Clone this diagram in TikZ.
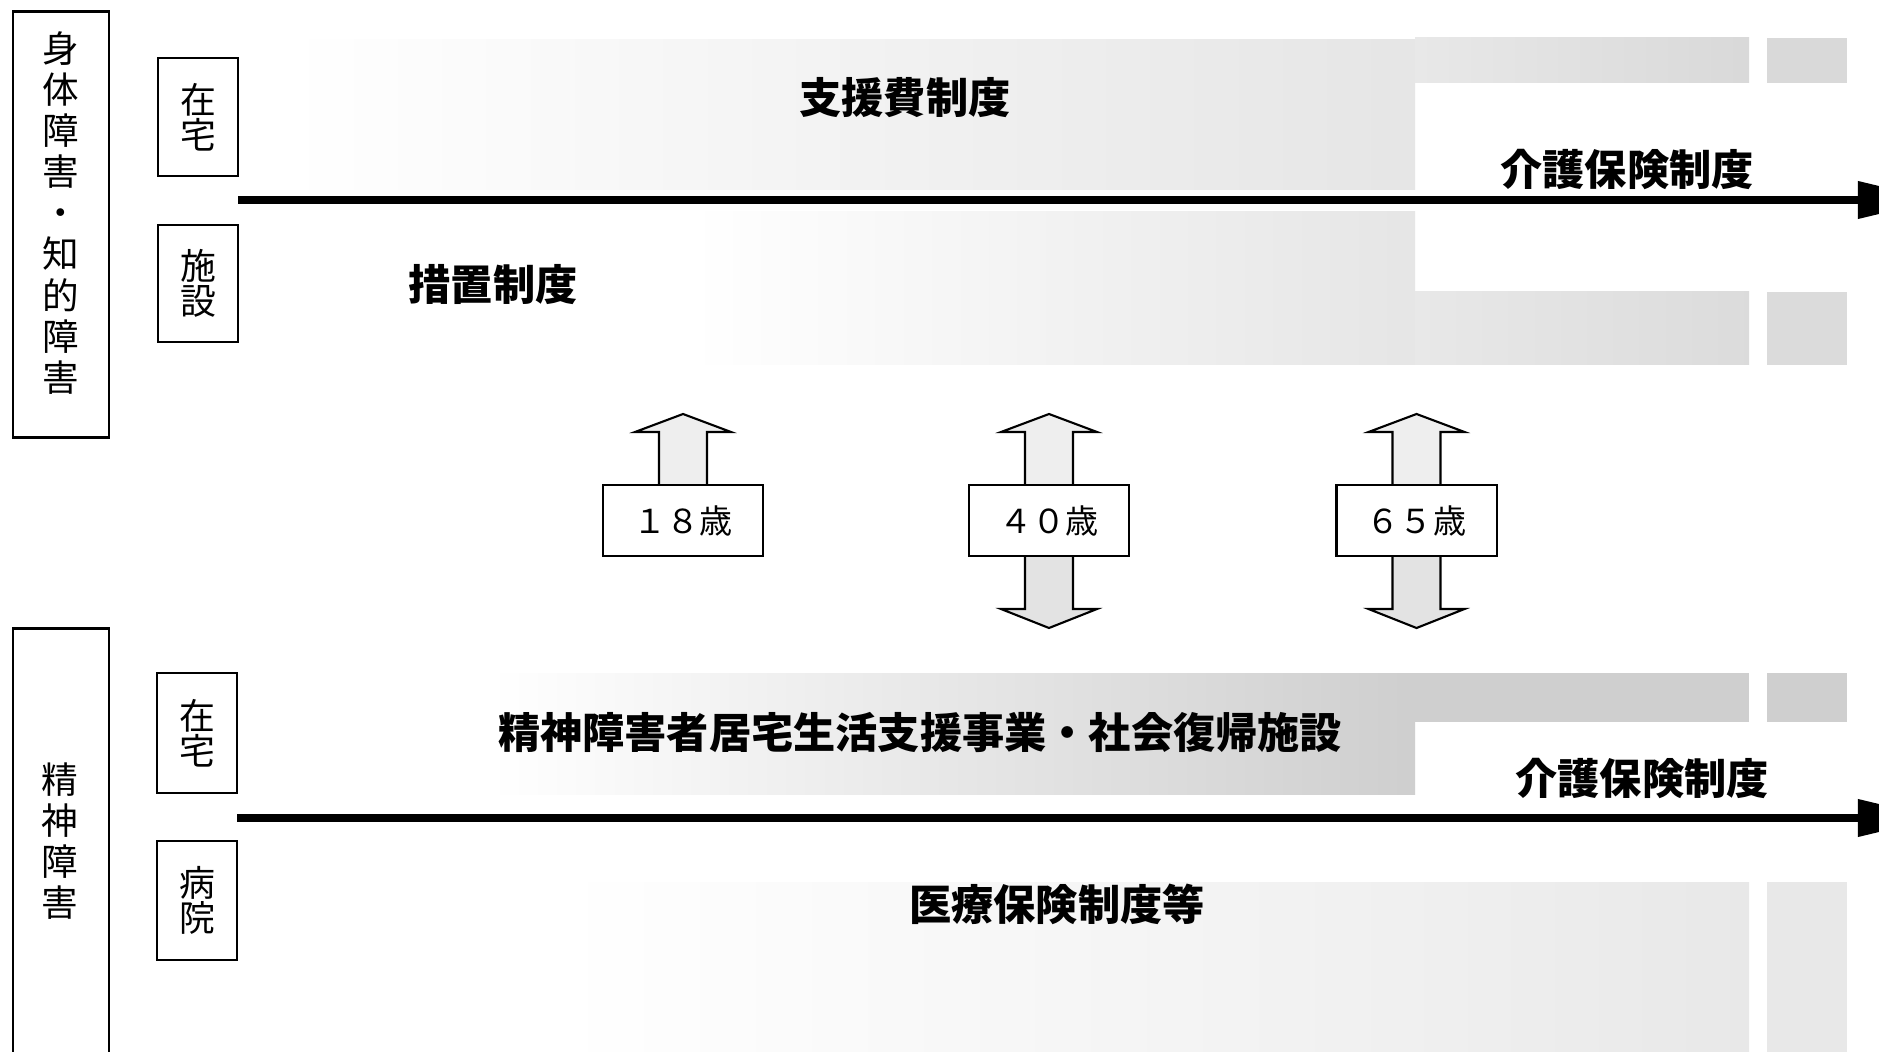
\documentclass[tikz,border=0pt]{standalone}
\usepackage{fontspec}
\newfontfamily\cjk{Noto Sans CJK JP}
\usetikzlibrary{arrows.meta}
\begin{document}
\begin{tikzpicture}[x=0.01cm,y=-0.01cm,
  grouplabel/.style={draw, line width=0.8pt, inner sep=0pt, minimum width=0.96cm},
  vtext/.style={inner sep=0pt, align=center, font=\cjk\fontsize{10.4pt}{11.67pt}\selectfont},
  smallbox/.style={draw, line width=0.5pt, minimum width=0.80cm, inner sep=0pt, align=center, font=\cjk\fontsize{10.2pt}{10pt}\selectfont},
  agebox/.style={draw, fill=white, line width=0.6pt, minimum width=1.60cm, minimum height=0.71cm, inner sep=0pt, font=\cjk\fontsize{9.4pt}{10pt}\selectfont},
  uparrow/.style={draw, line width=0.6pt, fill=gray!13},
  downarrow/.style={draw, line width=0.6pt, fill=gray!22},
  title/.style={inner sep=0pt, font=\cjk\bfseries\fontsize{12pt}{12pt}\selectfont},
  timeline/.style={line width=2pt, -{Triangle[length=0.8cm,width=0.36cm]}},
]
\useasboundingbox (0,0) rectangle (1879,1052);
\fill[white] (0,0) rectangle (1879,1052);

% ---- shaded bands ----
% upper group, above line
\shade[left color=white, right color=gray!20] (287,40) rectangle (1415,190);
\shade[left color=gray!18, right color=gray!30] (1415,38) rectangle (1749,83);
\fill[gray!30] (1767,38) rectangle (1847,83);
% upper group, below line
\shade[left color=white, right color=gray!20] (690,212) rectangle (1415,365);
\shade[left color=gray!18, right color=gray!28] (1415,292) rectangle (1749,365);
\fill[gray!28] (1767,292) rectangle (1847,365);
% lower group, above line
\shade[left color=white, right color=gray!38] (490,673) rectangle (1415,794);
\fill[gray!38] (1415,673) rectangle (1749,722);
\fill[gray!38] (1767,673) rectangle (1847,722);
% lower group, below line
\shade[left color=white, right color=gray!12] (560,882) rectangle (1415,1052);
\shade[left color=gray!12, right color=gray!18] (1415,882) rectangle (1749,1052);
\fill[gray!18] (1767,882) rectangle (1847,1052);

% ---- group labels ----
\node[grouplabel, minimum height=4.25cm] (g1) at (61,224.5) {};
\node[vtext] (g1t) at (61,213) {身\\体\\障\\害\\・\\知\\的\\障\\害};
\node[grouplabel, minimum height=4.6cm, anchor=north] (g2) at (61,627) {};
\node[vtext] (g2t) at (60,841) {精\\神\\障\\害};

% ---- place boxes ----
\node[smallbox, minimum height=1.18cm] (z1) at (198,117) {在\\宅};
\node[smallbox, minimum height=1.17cm] (s1) at (198,283.5) {施\\設};
\node[smallbox, minimum height=1.20cm] (z2) at (197,733) {在\\宅};
\node[smallbox, minimum height=1.19cm] (b2) at (197,900.5) {病\\院};

% ---- time lines ----
\coordinate (l1s) at (238,200);
\coordinate (l1e) at (1938,200);
\draw[timeline] (l1s) -- (l1e);
\coordinate (l2s) at (237,818);
\coordinate (l2e) at (1938,818);
\draw[timeline] (l2s) -- (l2e);

% ---- titles ----
\node[title] (t1) at (905,98) {支援費制度};
\node[title] (t2) at (1627,170) {介護保険制度};
\node[title] (t3) at (493,285) {措置制度};
\node[title] (t4) at (920,733) {精神障害者居宅生活支援事業・社会復帰施設};
\node[title] (t5) at (1642,779) {介護保険制度};
\node[title] (t6) at (1057,904) {医療保険制度等};

% ---- age markers ----
\coordinate (a18c) at (683,520.5);
\coordinate (a40c) at (1049,520.5);
\coordinate (a65c) at (1416.5,520.5);
% up arrows
\foreach \c in {a18c,a40c,a65c}{
  \draw[uparrow] (\c) ++(-24,-35.5) -- ++(0,-53) -- ++(-24,0) -- ++(48,-18) -- ++(48,18) -- ++(-24,0) -- ++(0,53);
}
% down arrows
\foreach \c in {a40c,a65c}{
  \draw[downarrow] (\c) ++(-24,35.5) -- ++(0,53) -- ++(-24,0) -- ++(48,19) -- ++(48,-19) -- ++(-24,0) -- ++(0,-53);
}
\node[agebox] (a18) at (a18c) {１８歳};
\node[agebox] (a40) at (a40c) {４０歳};
\node[agebox] (a65) at (a65c) {６５歳};
\end{tikzpicture}
\end{document}
